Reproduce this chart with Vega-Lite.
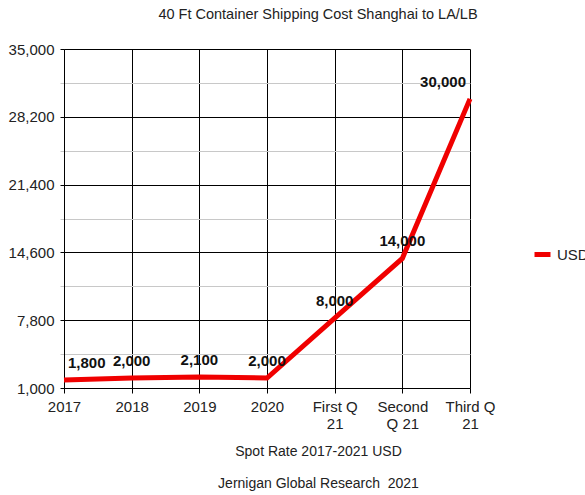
{
  "$schema": "https://vega.github.io/schema/vega-lite/v6.json",
  "autosize": {"type": "none"},
  "width": 406,
  "height": 339,
  "padding": {"left": 64, "top": 49, "right": 115, "bottom": 107},
  "background": "white",
  "config": {
    "font": "Liberation Sans",
    "view": {"stroke": null},
    "axis": {"labelColor": "#222", "titleColor": "#222", "labelFont": "Liberation Sans", "titleFont": "Liberation Sans"}
  },
  "title": {
    "text": "40 Ft Container Shipping Cost Shanghai to LA/LB",
    "font": "Liberation Sans",
    "fontSize": 14.5,
    "fontWeight": "normal",
    "color": "#222",
    "anchor": "middle",
    "dx": 51,
    "offset": 20
  },
  "data": {
    "values": [
      {"period": "2017", "usd": 1800, "series": "USD"},
      {"period": "2018", "usd": 2000, "series": "USD"},
      {"period": "2019", "usd": 2100, "series": "USD"},
      {"period": "2020", "usd": 2000, "series": "USD"},
      {"period": "First Q 21", "usd": 8000, "series": "USD"},
      {"period": "Second Q 21", "usd": 14000, "series": "USD"},
      {"period": "Third Q 21", "usd": 30000, "series": "USD"}
    ]
  },
  "encoding": {
    "x": {
      "field": "period",
      "type": "ordinal",
      "sort": null,
      "scale": {"type": "point", "padding": 0},
      "axis": {
        "labelAngle": 0,
        "labelFontSize": 15,
        "labelLineHeight": 17,
        "labelPadding": 6,
        "labelExpr": "datum.value === 'First Q 21' ? ['First Q', '21'] : datum.value === 'Second Q 21' ? ['Second', 'Q 21'] : datum.value === 'Third Q 21' ? ['Third Q', '21'] : datum.label",
        "tickSize": 5,
        "tickColor": "#000",
        "domainColor": "#000",
        "grid": true,
        "gridColor": "#000",
        "gridWidth": 1,
        "title": ["Spot Rate 2017-2021 USD", "Jernigan Global Research\u00a0 2021"],
        "titleFontSize": 14,
        "titleFontWeight": "normal",
        "titleLineHeight": 32,
        "titleAnchor": null,
        "titleAlign": "center",
        "titleBaseline": "top",
        "titleX": 254,
        "titleY": 56
      }
    },
    "y": {
      "field": "usd",
      "type": "quantitative",
      "scale": {"domain": [1000, 35000], "nice": false, "zero": false},
      "axis": {
        "values": [1000, 4400, 7800, 11200, 14600, 18000, 21400, 24800, 28200, 31600, 35000],
        "labelExpr": "(datum.value - 1000) % 6800 === 0 ? format(datum.value, ',') : ''",
        "labelFontSize": 15,
        "labelPadding": 6,
        "tickSize": 4,
        "tickColor": {"condition": {"test": "(datum.value - 1000) % 6800 === 0", "value": "#000"}, "value": "#c8c8c8"},
        "domainColor": "#000",
        "grid": true,
        "gridColor": {"condition": {"test": "(datum.value - 1000) % 6800 === 0", "value": "#000"}, "value": "#c8c8c8"},
        "gridWidth": 1,
        "title": null
      }
    }
  },
  "layer": [
    {
      "mark": {"type": "line", "strokeWidth": 5, "strokeCap": "butt", "strokeJoin": "miter"},
      "encoding": {
        "color": {
          "field": "series",
          "type": "nominal",
          "scale": {"range": ["#f00000"]},
          "legend": {
            "title": null,
            "orient": "none",
            "legendX": 468,
            "legendY": 195,
            "symbolType": "stroke",
            "symbolStrokeWidth": 5,
            "symbolSize": 256,
            "labelFontSize": 15,
            "labelColor": "#222",
            "labelOffset": 4
          }
        }
      }
    },
    {
      "mark": {
        "type": "text",
        "fontSize": 15,
        "fontWeight": "bold",
        "color": "#111",
        "baseline": "middle",
        "dy": -17,
        "align": {"expr": "datum.period === '2017' ? 'left' : datum.period === 'Third Q 21' ? 'right' : 'center'"},
        "dx": {"expr": "datum.period === '2017' ? 4 : datum.period === 'Third Q 21' ? -4 : 0"}
      },
      "encoding": {
        "text": {"field": "usd", "type": "quantitative", "format": ","}
      }
    }
  ]
}
